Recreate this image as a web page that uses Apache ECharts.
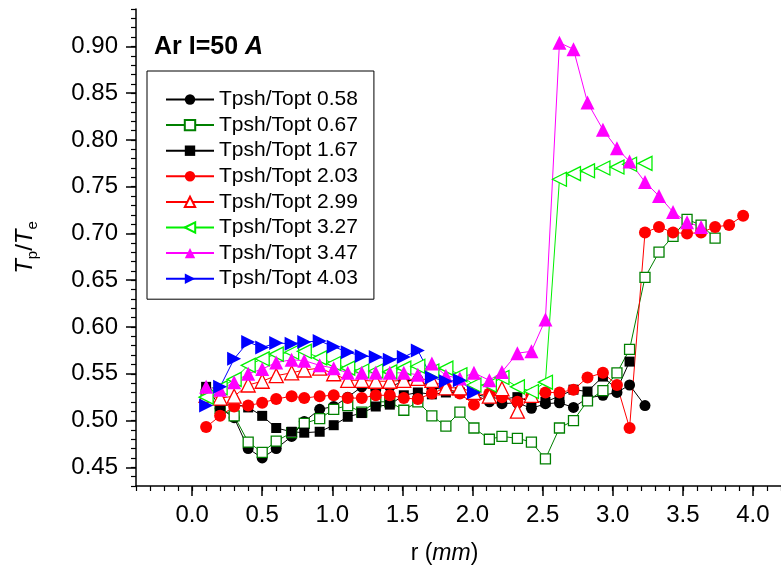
<!DOCTYPE html>
<html>
<head>
<meta charset="utf-8">
<script src="https://cdn.jsdelivr.net/npm/echarts@6/dist/echarts.min.js"></script>
<style>
  html, body { margin: 0; padding: 0; background: #fff; }
  #chart { width: 781px; height: 575px; }
</style>
</head>
<body>
<div id="chart"></div>
<script>
// radial positions (mm), shared by all series
var rVals = [0.10, 0.20, 0.30, 0.40, 0.50, 0.60, 0.71, 0.80, 0.91, 1.01,
  1.11, 1.21, 1.31, 1.41, 1.51, 1.61, 1.71, 1.81, 1.91, 2.01,
  2.12, 2.21, 2.32, 2.42, 2.52, 2.62, 2.72, 2.82, 2.93, 3.03,
  3.12, 3.23, 3.33, 3.43, 3.53, 3.63, 3.73, 3.83, 3.93];

var xTicks = [0.0, 0.5, 1.0, 1.5, 2.0, 2.5, 3.0, 3.5, 4.0];
var yTicks = [0.45, 0.50, 0.55, 0.60, 0.65, 0.70, 0.75, 0.80, 0.85, 0.90];

// Tp/Te for each Tpsh/Topt ratio
var t058 = [0.530, 0.513, 0.503, 0.470, 0.460, 0.470, 0.483, 0.499, 0.512, 0.515,
  0.525, 0.536, 0.533, 0.536, 0.542, 0.544, 0.535, 0.533, 0.530, 0.528,
  0.520, 0.518, 0.519, 0.513, 0.518, 0.519, 0.514, 0.524, 0.527, 0.530,
  0.538, 0.516];
var t067 = [0.528, 0.513, 0.505, 0.477, 0.466, 0.478, 0.487, 0.497, 0.502, 0.512,
  0.516, 0.509, 0.520, 0.520, 0.511, 0.520, 0.505, 0.494, 0.509, 0.492,
  0.480, 0.483, 0.481, 0.477, 0.459, 0.492, 0.500, 0.521, 0.532, 0.551,
  0.576, 0.653, 0.680, 0.697, 0.715, 0.709, 0.695];
var t167 = [0.536, 0.515, 0.518, 0.514, 0.505, 0.492, 0.488, 0.487, 0.488, 0.495,
  0.504, 0.508, 0.515, 0.517, 0.527, 0.530, 0.528, 0.530, 0.530, 0.528,
  0.525, 0.523, 0.525, 0.520, 0.520, 0.526, 0.533, 0.531, 0.547, 0.533,
  0.563];
var t203 = [0.493, 0.505, 0.515, 0.516, 0.519, 0.523, 0.526, 0.524, 0.526, 0.527,
  0.524, 0.524, 0.527, 0.527, 0.524, 0.523, 0.529, 0.535, 0.529, 0.517,
  0.529, 0.525, 0.520, 0.527, 0.530, 0.530, 0.533, 0.546, 0.551, 0.538,
  0.492, 0.701, 0.707, 0.701, 0.700, 0.701, 0.707, 0.709, 0.719];
var t299 = [0.527, 0.524, 0.526, 0.538, 0.542, 0.548, 0.551, 0.554, 0.556, 0.550,
  0.543, 0.543, 0.542, 0.542, 0.543, 0.545, 0.543, 0.535, 0.535, 0.530,
  0.526, 0.534, 0.510, 0.527];
var t327 = [0.525, 0.535, 0.544, 0.559, 0.566, 0.571, 0.573, 0.574, 0.567, 0.561,
  0.556, 0.553, 0.553, 0.552, 0.556, 0.558, 0.553, 0.556, 0.549, 0.538,
  0.538, 0.546, 0.536, 0.531, 0.541, 0.758, 0.764, 0.767, 0.770, 0.771,
  0.774, 0.775];
var t347 = [0.536, 0.533, 0.541, 0.550, 0.555, 0.562, 0.565, 0.564, 0.559, 0.556,
  0.551, 0.551, 0.551, 0.551, 0.551, 0.549, 0.561, 0.548, 0.545, 0.551,
  0.543, 0.552, 0.572, 0.574, 0.608, 0.904, 0.897, 0.840, 0.811, 0.791,
  0.777, 0.755, 0.740, 0.723, 0.712, 0.707];
var t403 = [0.516, 0.536, 0.566, 0.584, 0.578, 0.583, 0.582, 0.584, 0.585, 0.579,
  0.573, 0.569, 0.568, 0.565, 0.568, 0.575, 0.546, 0.542, 0.543, 0.530];

var FONT = 'Liberation Sans';

function pairs(ys) {
  return ys.map(function(v, i) { return [rVals[i], v]; });
}

function mkSeries(name, ys, color, symbol, size, open, rotate) {
  return {
    name: name,
    type: 'line',
    data: pairs(ys),
    symbol: symbol,
    symbolSize: size,
    symbolRotate: rotate || 0,
    showAllSymbol: true,
    animation: false,
    lineStyle: { color: color, width: 1 },
    itemStyle: open
      ? { color: '#fff', borderColor: color, borderWidth: 1.3 }
      : { color: color, borderWidth: 0 },
    emphasis: { disabled: true }
  };
}

var series = [
  mkSeries('Tpsh/Topt 0.58', t058, '#000000', 'circle', 11, false),
  mkSeries('Tpsh/Topt 0.67', t067, '#008000', 'rect', 10, true),
  mkSeries('Tpsh/Topt 1.67', t167, '#000000', 'rect', 10, false),
  mkSeries('Tpsh/Topt 2.03', t203, '#ff0000', 'circle', 12, false),
  mkSeries('Tpsh/Topt 2.99', t299, '#ff0000', 'triangle', 14, true),
  mkSeries('Tpsh/Topt 3.27', t327, '#00f000', 'triangle', 14, true, 90),
  mkSeries('Tpsh/Topt 3.47', t347, '#ff00ff', 'triangle', 14, false),
  mkSeries('Tpsh/Topt 4.03', t403, '#0000ff', 'triangle', 14, false, -90)
];

var chart = echarts.init(document.getElementById('chart'), null, { renderer: 'canvas' });

chart.setOption({
  backgroundColor: '#fff',
  animation: false,
  textStyle: { fontFamily: FONT },
  title: {
    text: '{b|Ar I=50 }{bi|A}',
    left: 149,
    top: 30,
    textStyle: {
      rich: {
        b: { fontFamily: FONT, fontSize: 25, fontWeight: 'bold', color: '#000' },
        bi: { fontFamily: FONT, fontSize: 25, fontWeight: 'bold', fontStyle: 'italic', color: '#000' }
      }
    }
  },
  legend: {
    orient: 'vertical',
    left: 147,
    top: 71,
    padding: [18, 16, 10, 18],
    itemGap: 4.6,
    itemWidth: 48,
    itemHeight: 13,
    borderColor: '#000',
    borderWidth: 1,
    selectedMode: false,
    textStyle: { fontFamily: FONT, fontSize: 21, lineHeight: 20, color: '#000' },
    data: series.map(function(s) { return s.name; })
  },
  grid: { left: 136, top: 9, width: 648.6, height: 477, containLabel: false },
  xAxis: [
    {
      type: 'value',
      min: -0.4,
      max: 4.2,
      name: '{n|r (}{i|mm}{n|)}',
      nameLocation: 'middle',
      nameGap: 56,
      nameTextStyle: {
        padding: [0, 28, 0, 0],
        rich: {
          n: { fontFamily: FONT, fontSize: 23, color: '#000' },
          i: { fontFamily: FONT, fontSize: 23, fontStyle: 'italic', color: '#000' }
        }
      },
      axisLine: { show: true, onZero: false, lineStyle: { color: '#000', width: 1.5 } },
      axisTick: { show: true, customValues: xTicks, length: 10, lineStyle: { color: '#000', width: 1.5 } },
      axisLabel: {
        customValues: xTicks,
        margin: 17,
        fontFamily: FONT,
        fontSize: 24,
        color: '#000',
        formatter: function(v) { return v.toFixed(1); }
      },
      splitLine: { show: false }
    },
    {
      type: 'value',
      min: -0.4,
      max: 4.2,
      interval: 0.1,
      position: 'bottom',
      axisLine: { show: false, onZero: false },
      axisTick: { show: true, length: 5, lineStyle: { color: '#000', width: 1.2 } },
      axisLabel: { show: false },
      splitLine: { show: false }
    }
  ],
  yAxis: [
    {
      type: 'value',
      min: 0.43,
      max: 0.94,
      name: '{i|T}{sub|p}{n|/}{i|T}{sub|e}',
      nameLocation: 'middle',
      nameRotate: 90,
      nameGap: 96,
      nameTextStyle: {
        rich: {
          i: { fontFamily: FONT, fontSize: 24, fontStyle: 'italic', color: '#000', lineHeight: 30 },
          n: { fontFamily: FONT, fontSize: 24, color: '#000', lineHeight: 30 },
          sub: { fontFamily: FONT, fontSize: 15, color: '#000', verticalAlign: 'bottom' }
        }
      },
      axisLine: { show: true, onZero: false, lineStyle: { color: '#000', width: 1.5 } },
      axisTick: { show: true, customValues: yTicks, length: 10, lineStyle: { color: '#000', width: 1.5 } },
      axisLabel: {
        customValues: yTicks,
        margin: 18,
        fontFamily: FONT,
        fontSize: 24,
        color: '#000',
        formatter: function(v) { return v.toFixed(2); }
      },
      splitLine: { show: false }
    },
    {
      type: 'value',
      min: 0.43,
      max: 0.94,
      interval: 0.01,
      position: 'left',
      axisLine: { show: false, onZero: false },
      axisTick: { show: true, length: 5, lineStyle: { color: '#000', width: 1.2 } },
      axisLabel: { show: false },
      splitLine: { show: false }
    }
  ],
  series: series
});
</script>
</body>
</html>
